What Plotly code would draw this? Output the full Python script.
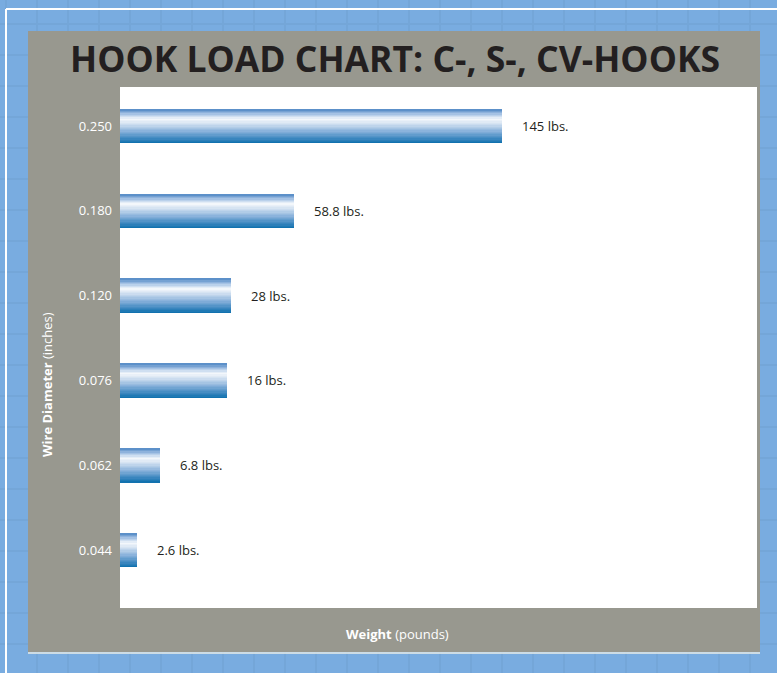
import plotly.graph_objects as go

# data
diameters = ["0.044", "0.062", "0.076", "0.120", "0.180", "0.250"]
load_labels = ["2.6 lbs.", "6.8 lbs.", "16 lbs.", "28 lbs.", "58.8 lbs.", "145 lbs."]
# drawn bar length, as % of the axis width (the bars are not to scale with the loads)
bar_length = [2.7, 6.3, 16.8, 17.4, 27.3, 60.0]

W, H = 777, 673
PL, PR, PT, PB = 120, 757, 87, 608  # plot area in pixels

BLUE_BG = "#79ace0"
GRID = "#74a6d8"
PANEL = "#98988f"
INK = "#231f20"
FONT = "Open Sans"

# bar gradient, top -> bottom
STOPS = [
    (0.00, (0x4f, 0x88, 0xc4)),
    (0.12, (0x9d, 0xbd, 0xe2)),
    (0.28, (0xf5, 0xf8, 0xfc)),
    (0.42, (0xd2, 0xe1, 0xf1)),
    (0.65, (0x86, 0xb0, 0xda)),
    (0.85, (0x3e, 0x88, 0xc0)),
    (1.00, (0x0b, 0x6f, 0xac)),
]


def grad_color(t):
    for (t0, c0), (t1, c1) in zip(STOPS, STOPS[1:]):
        if t <= t1:
            f = (t - t0) / (t1 - t0)
            return "rgb(%d,%d,%d)" % tuple(round(a + (b - a) * f) for a, b in zip(c0, c1))
    return "rgb(%d,%d,%d)" % STOPS[-1][1]


def px(x):
    return (x - PL) / (PR - PL)


def py(y):
    return (PB - y) / (PB - PT)


BAR_W = 0.40
N_STRIPS = 26
step = BAR_W / N_STRIPS

fig = go.Figure()
for i in range(N_STRIPS):
    t = 1 - (i + 0.5) / N_STRIPS  # strip 0 is the bottom edge
    fig.add_trace(
        go.Bar(
            x=bar_length,
            y=diameters,
            orientation="h",
            offset=-BAR_W / 2 + i * step,
            width=step * 1.15,
            marker=dict(color=grad_color(t), line=dict(width=0)),
            hoverinfo="skip",
            showlegend=False,
        )
    )

# category axis: annotations take the category index
annotations = [
    dict(
        x=v, y=idx, text=lab, xref="x", yref="y",
        xanchor="left", yanchor="middle", xshift=18, showarrow=False,
        font=dict(family=FONT, size=13, color=INK),
    )
    for idx, (v, lab) in enumerate(zip(bar_length, load_labels))
]
annotations += [
    dict(
        x=px(395), y=py(58), xref="paper", yref="paper",
        text="<b>HOOK LOAD CHART: C-, S-, CV-HOOKS</b>", showarrow=False,
        xanchor="center", yanchor="middle",
        font=dict(family=FONT, size=35.5, color=INK),
    ),
    dict(
        x=px(397), y=py(634), xref="paper", yref="paper",
        text="<b>Weight</b> (pounds)", showarrow=False,
        xanchor="center", yanchor="middle",
        font=dict(family=FONT, size=13, color="white"),
    ),
    dict(
        x=px(47), y=py(385), xref="paper", yref="paper",
        text="<b>Wire Diameter</b> (inches)", showarrow=False, textangle=-90,
        xanchor="center", yanchor="middle",
        font=dict(family=FONT, size=13, color="white"),
    ),
]

shapes = []
# faint tile grid in the blue background
for gx in range(6, W, 31):
    shapes.append(dict(type="line", xref="paper", yref="paper", layer="below",
                       x0=px(gx), x1=px(gx), y0=py(0), y1=py(H),
                       line=dict(color=GRID, width=2)))
for gy in range(24, H, 31):
    shapes.append(dict(type="line", xref="paper", yref="paper", layer="below",
                       x0=px(0), x1=px(W), y0=py(gy), y1=py(gy),
                       line=dict(color=GRID, width=2)))
# thin white frame
shapes.append(dict(type="line", xref="paper", yref="paper", layer="below",
                   x0=px(6), x1=px(6), y0=py(9), y1=py(H),
                   line=dict(color="white", width=2)))
shapes.append(dict(type="line", xref="paper", yref="paper", layer="below",
                   x0=px(6), x1=px(W), y0=py(9), y1=py(9),
                   line=dict(color="white", width=2)))
# grey panel, its light bottom edge and the white plot area
shapes.append(dict(type="rect", xref="paper", yref="paper", layer="below",
                   x0=px(28), x1=px(760), y0=py(652), y1=py(31),
                   fillcolor=PANEL, line=dict(width=0)))
shapes.append(dict(type="line", xref="paper", yref="paper", layer="below",
                   x0=px(28), x1=px(760), y0=py(653), y1=py(653),
                   line=dict(color="#e8ece8", width=1.5)))
shapes.append(dict(type="rect", xref="paper", yref="paper", layer="below",
                   x0=0, x1=1, y0=0, y1=1,
                   fillcolor="white", line=dict(width=0)))

fig.update_layout(
    width=W,
    height=H,
    margin=dict(l=PL, r=W - PR, t=PT, b=H - PB),
    paper_bgcolor=BLUE_BG,
    plot_bgcolor="white",
    barmode="overlay",
    bargap=0,
    showlegend=False,
    font=dict(family=FONT),
    xaxis=dict(range=[0, 100], showgrid=False, zeroline=False,
               showticklabels=False, ticks="", fixedrange=True),
    yaxis=dict(type="category", categoryorder="array", categoryarray=diameters,
               range=[-0.684, 5.46], showgrid=False, zeroline=False, ticks="",
               ticklabelstandoff=7,
               tickfont=dict(family=FONT, size=13, color="white"),
               fixedrange=True),
    annotations=annotations,
    shapes=shapes,
)

# drop the browser's default body margin so the figure sits at the page origin
fig.write_html(
    "out.html",
    config=dict(displayModeBar=False),
    post_script="document.body.style.margin='0';document.body.style.overflow='hidden';",
)
